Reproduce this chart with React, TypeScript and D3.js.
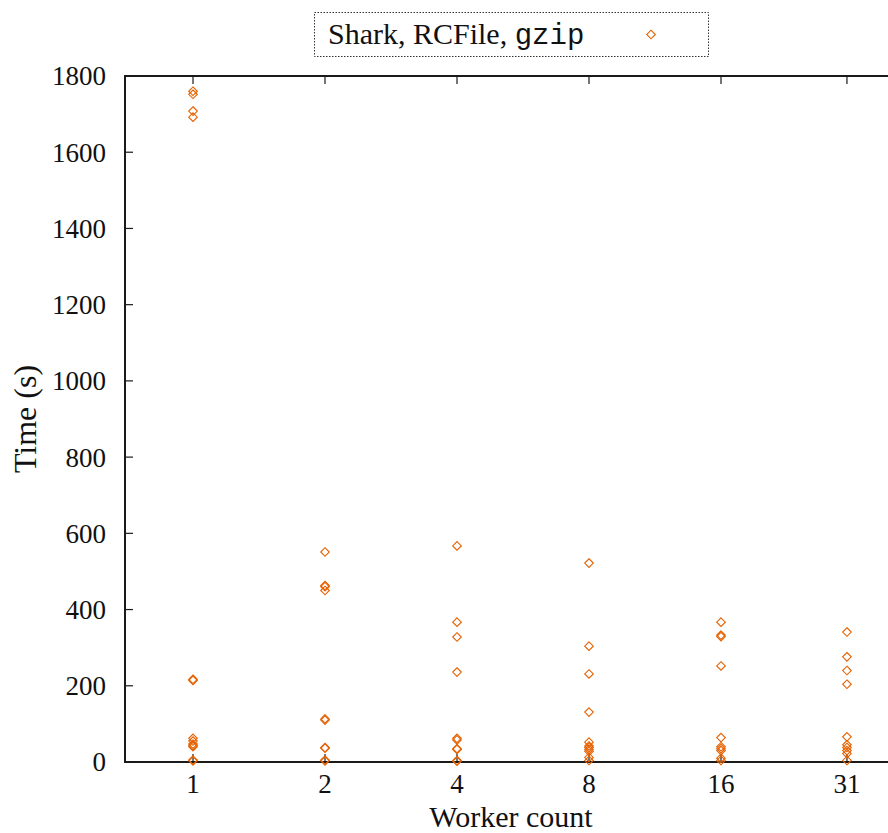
import React from "react";
import * as d3 from "d3";

const workerCounts = [1, 2, 4, 8, 16, 31];
const times1 = [1760, 1752, 1708, 1692, 217, 214, 62, 55, 47, 43, 40, 5, 3];
const times2 = [551, 463, 460, 450, 113, 110, 38, 36, 5, 3];
const times4 = [567, 367, 328, 236, 62, 58, 35, 33, 4, 2];
const times8 = [522, 304, 231, 131, 52, 42, 38, 33, 28, 12, 4];
const times16 = [367, 333, 329, 252, 64, 40, 35, 30, 10, 4];
const times31 = [341, 276, 240, 204, 66, 45, 38, 30, 22, 4];
const yTicks = [0, 200, 400, 600, 800, 1000, 1200, 1400, 1600, 1800];
const seriesName = "Shark, RCFile, ";
const seriesCode = "gzip";

const W = 888;
const H = 833;
const color = "#e66101";
const serif = "'Liberation Serif', 'DejaVu Serif', serif";
const mono = "'Liberation Mono', 'DejaVu Sans Mono', monospace";

export default function App() {
  const x = d3.scaleLog().base(2).domain([1, 32]).range([193, 853]);
  const y = d3.scaleLinear().domain([0, 1800]).range([762, 76]);
  const left = 125;
  const right = W + 2;
  const columns = [times1, times2, times4, times8, times16, times31];
  const points = columns.flatMap((arr, i) => arr.map((v) => ({ w: workerCounts[i], v })));
  const r = 4.3;
  const diamond = (cx: number, cy: number) =>
    `M${cx},${cy - r}L${cx + r},${cy}L${cx},${cy + r}L${cx - r},${cy}Z`;

  return (
    <svg width={W} height={H} style={{ position: "absolute", left: 0, top: 0 }}>
      <rect width={W} height={H} fill="white" />
      {/* legend */}
      <rect x={314.5} y={12.5} width={394} height={44} fill="none" stroke="#333" strokeWidth={1} strokeDasharray="1.5,1.5" />
      <text x={328} y={44} fontFamily={serif} fontSize={30} fill="#111">
        {seriesName}
        <tspan fontFamily={mono} fontSize={29}>{seriesCode}</tspan>
      </text>
      <path d={diamond(651, 34.5)} fill="none" stroke={color} strokeWidth={1.1} />
      {/* axes */}
      <line x1={left} x2={right} y1={y(1800)} y2={y(1800)} stroke="#1a1a1a" strokeWidth={2} />
      <line x1={left} x2={right} y1={y(0)} y2={y(0)} stroke="#1a1a1a" strokeWidth={2} />
      <line x1={left} x2={left} y1={y(1800) - 1} y2={y(0) + 1} stroke="#1a1a1a" strokeWidth={2} />
      {yTicks.map((t) => (
        <g key={t}>
          <line x1={left} x2={left + 8} y1={y(t)} y2={y(t)} stroke="#1a1a1a" strokeWidth={1.2} />
          <text x={106} y={y(t)} dy="0.35em" textAnchor="end" fontFamily={serif} fontSize={27} fill="#111">
            {t}
          </text>
        </g>
      ))}
      {workerCounts.map((w) => (
        <g key={w}>
          <line x1={x(w)} x2={x(w)} y1={y(0)} y2={y(0) - 8} stroke="#1a1a1a" strokeWidth={1.2} />
          <line x1={x(w)} x2={x(w)} y1={y(1800)} y2={y(1800) + 8} stroke="#1a1a1a" strokeWidth={1.2} />
          <text x={x(w)} y={793} textAnchor="middle" fontFamily={serif} fontSize={27} fill="#111">
            {w}
          </text>
        </g>
      ))}
      <text x={511} y={827} textAnchor="middle" fontFamily={serif} fontSize={30} fill="#111">
        Worker count
      </text>
      <text
        transform={`translate(36,${(y(0) + y(1800)) / 2}) rotate(-90)`}
        textAnchor="middle"
        fontFamily={serif}
        fontSize={32}
        fill="#111"
      >
        Time (s)
      </text>
      {points.map((p, i) => (
        <path key={i} d={diamond(x(p.w), y(p.v))} fill="none" stroke={color} strokeWidth={1.1} />
      ))}
    </svg>
  );
}
